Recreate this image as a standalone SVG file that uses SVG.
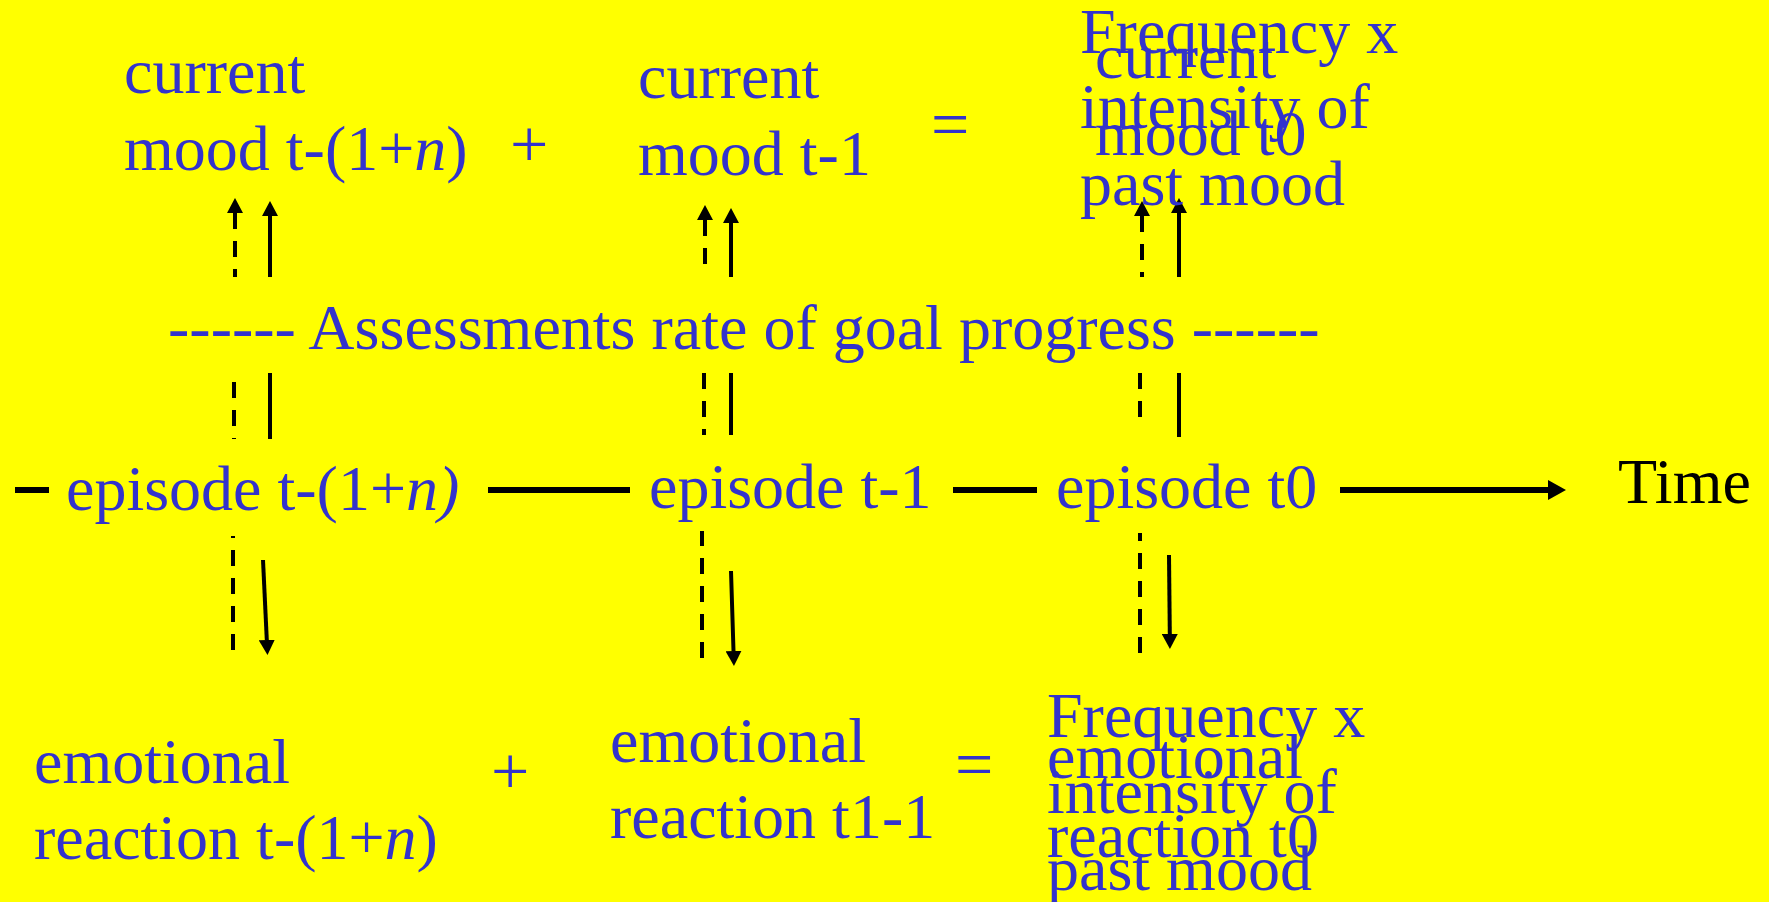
<svg xmlns="http://www.w3.org/2000/svg" width="1769" height="902" viewBox="0 0 1769 902">
<style>
.t{font-family:"Liberation Serif","Times New Roman",serif;font-size:64px;fill:#3333CC}
.k{fill:#000000}
.i{font-style:italic}
.op{font-size:68px}
.ln{stroke:#000;stroke-width:4;fill:none}
.ds{stroke:#000;stroke-width:4;fill:none;stroke-dasharray:16 12}
.tl{stroke:#000;stroke-width:6;fill:none}
</style>
<defs>
<marker id="ah" markerUnits="userSpaceOnUse" viewBox="0 0 15 16" refX="0" refY="8" markerWidth="15" markerHeight="16" orient="auto-start-reverse">
<path d="M0,0 L15,8 L0,16 z" fill="#000"/>
</marker>
<marker id="ahT" markerUnits="userSpaceOnUse" viewBox="0 0 18 20" refX="0" refY="10" markerWidth="18" markerHeight="20" orient="auto">
<path d="M0,0 L18,10 L0,20 z" fill="#000"/>
</marker>
</defs>
<rect x="0" y="0" width="1769" height="902" fill="#FFFF00"/>

<g id="connectors">
<line class="tl" x1="15" y1="490" x2="49" y2="490"/>
<line class="tl" x1="488" y1="490" x2="630" y2="490"/>
<line class="tl" x1="953" y1="490" x2="1037" y2="490"/>
<line class="tl" x1="1340" y1="490" x2="1548" y2="490" marker-end="url(#ahT)"/>
<path class="ds" d="M235,213 L235,277" marker-start="url(#ah)"/>
<path class="ln" d="M270,277 L270,216" marker-end="url(#ah)"/>
<path class="ds" d="M705,220 L705,267" marker-start="url(#ah)"/>
<path class="ln" d="M731,277 L731,223" marker-end="url(#ah)"/>
<path class="ds" d="M1142,216 L1142,277" marker-start="url(#ah)"/>
<path class="ln" d="M1179,277 L1179,213" marker-end="url(#ah)"/>
<path class="ds" d="M234,382 L234,439"/>
<path class="ln" d="M270,373 L270,439"/>
<path class="ds" d="M704,373 L704,435"/>
<path class="ln" d="M731,373 L731,435"/>
<path class="ds" d="M1140,373 L1140,428"/>
<path class="ln" d="M1179,373 L1179,437"/>
<path class="ds" d="M233,650 L233,536"/>
<path class="ln" d="M263,560 L266.8,640" marker-end="url(#ah)"/>
<path class="ds" d="M702,658 L702,531"/>
<path class="ln" d="M731,571 L733.5,651" marker-end="url(#ah)"/>
<path class="ds" d="M1140,653 L1140,533"/>
<path class="ln" d="M1169,555 L1169.8,634" marker-end="url(#ah)"/>
</g>

<g id="mood-past">
<text class="t" x="124" y="93">current</text>
<text class="t" x="124" y="170">mood t-(1+<tspan class="i">n</tspan>)</text>
</g>
<g id="plus-top"><text class="t op" x="510" y="167">+</text></g>
<g id="mood-prev">
<text class="t" x="638" y="98">current</text>
<text class="t" x="638" y="175">mood t-1</text>
</g>
<g id="equals-top"><text class="t op" x="931" y="147">=</text></g>
<g id="mood-now">
<text class="t" x="1080" y="53">Frequency x</text>
<text class="t" x="1080" y="128">intensity of</text>
<text class="t" x="1080" y="205">past mood</text>
<text class="t" x="1095" y="78">current</text>
<text class="t" x="1095" y="155">mood t0</text>
</g>

<g id="assessments">
<text class="t" x="168" y="349">------ Assessments rate of goal progress ------</text>
</g>

<g id="episode-past"><text class="t" x="66" y="510">episode t-(1+<tspan class="i">n)</tspan></text></g>
<g id="episode-prev"><text class="t" x="649" y="508">episode t-1</text></g>
<g id="episode-now"><text class="t" x="1056" y="508">episode t0</text></g>
<g id="time"><text class="t k" x="1618" y="503">Time</text></g>

<g id="reaction-past">
<text class="t" x="34" y="783">emotional</text>
<text class="t" x="34" y="859">reaction t-(1+<tspan class="i">n</tspan>)</text>
</g>
<g id="plus-bottom"><text class="t op" x="491" y="794">+</text></g>
<g id="reaction-prev">
<text class="t" x="610" y="762">emotional</text>
<text class="t" x="610" y="838">reaction t1-1</text>
</g>
<g id="equals-bottom"><text class="t op" x="955" y="787">=</text></g>
<g id="reaction-now">
<text class="t" x="1047" y="737">Frequency x</text>
<text class="t" x="1047" y="813">intensity of</text>
<text class="t" x="1047" y="890">past mood</text>
<text class="t" x="1047" y="778">emotional</text>
<text class="t" x="1047" y="857">reaction t0</text>
</g>
</svg>
